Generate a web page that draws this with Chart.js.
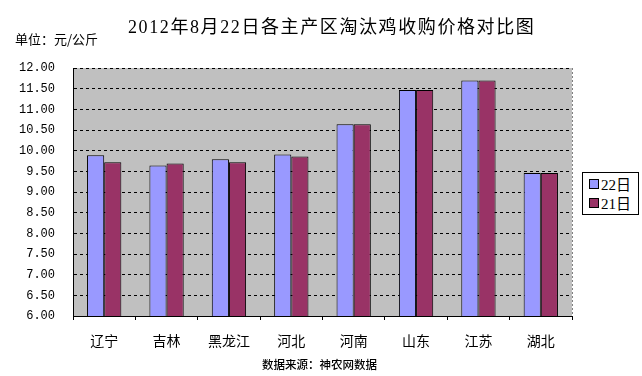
<!DOCTYPE html>
<html>
<head>
<meta charset="utf-8">
<script src="https://cdn.jsdelivr.net/npm/chart.js@4/dist/chart.umd.min.js"></script>
<style>
    body { margin: 0; background: #fff; }
    #wrap { position: relative; width: 642px; height: 376px; }
    #chart { position: absolute; left: 0; top: 0; }
    .txt { position: absolute; white-space: nowrap; color: #000; font-family: "Noto Sans CJK SC", sans-serif; }
    #title { left: 128px; top: 12px; font-family: "Liberation Serif", "Noto Sans CJK SC", serif; font-size: 18px; letter-spacing: 1.6px; }
    #unit { left: 15px; top: 29px; font-size: 13px; }
    #source { left: 262px; top: 356px; font-size: 11.5px; font-weight: 500; }
    #legend { position: absolute; left: 582px; top: 172px; width: 55px; height: 41px; border: 1px solid #000; background: #fff; }
    .item { position: absolute; left: 6px; font-size: 15px; line-height: 16px; font-family: "Liberation Serif", "Noto Sans CJK SC", serif; }
    .item i { display: inline-block; width: 8px; height: 8px; border: 1px solid #000; margin-right: 2px; vertical-align: 1px; }
</style>
</head>
<body>
<div id="wrap">
    <canvas id="chart" width="642" height="376"></canvas>
    <div class="txt" id="title">2012年8月22日各主产区淘汰鸡收购价格对比图</div>
    <div class="txt" id="unit">单位：元/公斤</div>
    <div class="txt" id="source">数据来源：神农网数据</div>
    <div id="legend"></div>
</div>
<script>
const categories = ['辽宁', '吉林', '黑龙江', '河北', '河南', '山东', '江苏', '湖北'];
const seriesNames = ['22日', '21日'];
const day22 = [9.89, 9.64, 9.79, 9.91, 10.64, 11.47, 11.70, 9.46];
const day21 = [9.72, 9.69, 9.72, 9.86, 10.64, 11.47, 11.70, 9.46];
const colors = ['#9999FF', '#993366'];
const yMin = 6, yMax = 12, yStep = 0.5;

// grey plot background + dotted right edge
const plotBg = {
    id: 'plotBg',
    beforeDraw(chart) {
        const a = chart.chartArea, ctx = chart.ctx;
        ctx.save();
        ctx.fillStyle = '#C0C0C0';
        ctx.fillRect(a.left, a.top, a.right - a.left, a.bottom - a.top);
        ctx.strokeStyle = '#808080';
        ctx.setLineDash([2, 2]);
        ctx.beginPath();
        ctx.moveTo(a.right + 0.5, a.top);
        ctx.lineTo(a.right + 0.5, a.bottom);
        ctx.stroke();
        ctx.restore();
    }
};

const chart = new Chart(document.getElementById('chart'), {
    type: 'bar',
    data: {
        labels: categories,
        datasets: [
            { label: seriesNames[0], data: day22, backgroundColor: colors[0], borderColor: '#000', borderWidth: 1 },
            { label: seriesNames[1], data: day21, backgroundColor: colors[1], borderColor: '#000', borderWidth: 1 }
        ]
    },
    options: {
        responsive: false,
        animation: false,
        layout: { padding: { top: 68, right: 70, left: 0, bottom: 0 } },
        datasets: { bar: { categoryPercentage: 0.55, barPercentage: 1 } },
        scales: {
            x: {
                grid: { offset: true, drawOnChartArea: false, color: '#000', tickLength: 4 },
                border: { color: '#000', width: 1 },
                ticks: { color: '#000', padding: 12, font: { family: '"Noto Sans CJK SC"', size: 14 } },
                afterFit(scale) { scale.height = 60; }
            },
            y: {
                min: yMin,
                max: yMax,
                grid: { color: '#000', drawTicks: false },
                // in v4 border.dash dashes the grid lines
                border: { color: '#000', width: 1, dash: [3, 3] },
                ticks: {
                    stepSize: yStep,
                    padding: 18,
                    color: '#000',
                    font: { family: '"Liberation Mono"', size: 12 },
                    callback: v => v.toFixed(2)
                },
                afterFit(scale) { scale.width = 73; }
            }
        },
        plugins: {
            legend: { display: false },
            tooltip: { enabled: false }
        }
    },
    plugins: [plotBg]
});

const legend = document.getElementById('legend');
chart.data.datasets.forEach((ds, i) => {
    const item = document.createElement('div');
    item.className = 'item';
    item.style.top = (4 + i * 19) + 'px';
    item.innerHTML = '<i style="background:' + ds.backgroundColor + '"></i>' + ds.label;
    legend.appendChild(item);
});
</script>
</body>
</html>
